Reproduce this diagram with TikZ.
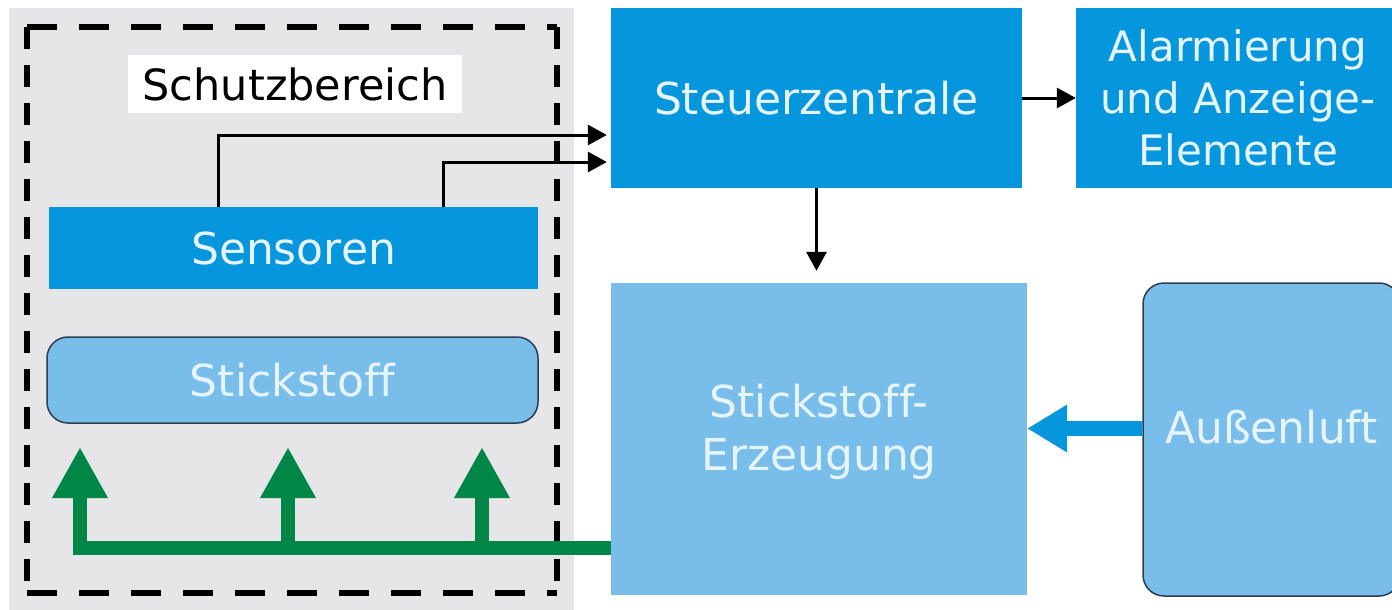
\documentclass[tikz,border=0pt]{standalone}
\usepackage{fontspec}
\setmainfont[Ligatures=NoCommon]{DejaVu Sans}
\usetikzlibrary{arrows.meta}

\definecolor{zoneGray}{RGB}{230,230,233}
\definecolor{ctrlBlue}{RGB}{5,150,222}
\definecolor{lightBlue}{RGB}{121,189,234}
\definecolor{edgeDark}{RGB}{45,62,82}
\definecolor{flowGreen}{RGB}{0,134,70}
\definecolor{textLight}{RGB}{230,244,252}

\tikzset{
  block/.style={rectangle, inner sep=0pt, text=textLight,
    font=\fontsize{44}{53}\selectfont, align=center},
  darkblock/.style={block, fill=ctrlBlue},
  paleblock/.style={block, fill=lightBlue},
  roundblock/.style={block, fill=lightBlue, draw=edgeDark, line width=1.5pt,
    rounded corners=21pt},
  lbl/.style={inner sep=0pt, text=textLight, align=center,
    font=\fontsize{44}{53}\selectfont},
  sig/.style={draw=black, line width=3pt,
    -{Triangle[length=19pt,width=20pt]}},
  airflow/.style={draw=ctrlBlue, line width=15pt,
    -{Triangle[length=40pt,width=45pt]}},
  n2flow/.style={draw=flowGreen, line width=14pt,
    -{Triangle[length=51pt,width=52pt]}},
  zoneedge/.style={draw=black, line width=6pt},
}

\begin{document}
\begin{tikzpicture}[x=1pt,y=-1pt]
  \clip (0,0) rectangle (1392,610);
  \fill[white] (0,0) rectangle (1392,610);

  % protected zone
  \fill[zoneGray] (9,8) rectangle (574,610);
  \draw[zoneedge, dash pattern=on 30pt off 22pt] (27,27) -- (557,27);
  \draw[zoneedge, dash pattern=on 30pt off 22pt] (27,593) -- (557,593);
  \draw[zoneedge, dash pattern=on 22pt off 16pt] (27,27) -- (27,593);
  \draw[zoneedge, dash pattern=on 22pt off 16pt] (557,27) -- (557,593);

  \node[fill=white, inner sep=0pt, minimum width=334pt, minimum height=58pt,
        font=\fontsize{43}{52}\selectfont, text=black]
        (zone) at (295,84) {Schutzbereich};

  % blocks
  \node[darkblock, minimum width=489pt, minimum height=82pt]
        (sens) at (293.5,248) {Sensoren};
  \node[roundblock, minimum width=491pt, minimum height=86pt]
        (n2) at (292.5,380) {Stickstoff};
  \node[darkblock, minimum width=411pt, minimum height=180pt]
        (steuer) at (816.5,98) {Steuerzentrale};
  \node[darkblock, minimum width=324pt, minimum height=180pt,
        font=\fontsize{42}{52}\selectfont]
        (alarm) at (1238,98) {Alarmierung\\und Anzeige-\\Elemente};
  \node[paleblock, minimum width=416pt, minimum height=312pt]
        (erz) at (819,439) {};
  \node[lbl] (erzT) at ([yshift=7pt]erz.center) {Stickstoff-\\Erzeugung};
  \node[roundblock, minimum width=257pt, minimum height=313pt]
        (aus) at (1271.5,439.5) {};
  \node[lbl] (ausT) at ([yshift=12pt]aus.center) {Außenluft};

  % signal lines
  \draw[sig, shorten >=4pt] ([xshift=-75.5pt]sens.north) |- ([yshift=-37pt]steuer.west);
  \draw[sig, shorten >=4pt] ([xshift=149.5pt]sens.north) |- ([yshift=-64pt]steuer.west);
  \draw[sig] (steuer.east) -- (alarm.west);
  \draw[sig, shorten >=12pt] (steuer.south) -- (steuer.south |- erz.north);

  % outside air into generator
  \draw[airflow] ([yshift=11pt]aus.west) -- ([yshift=11pt]aus.west -| erz.east);

  % nitrogen distribution
  \coordinate (g1) at (80,447);
  \coordinate (g2) at (288,447);
  \coordinate (g3) at (482,447);
  \coordinate (trunk) at ([yshift=-109pt]erz.west);
  \draw[n2flow] (trunk) -| (g1);
  \draw[n2flow] (g2 |- trunk) -- (g2);
  \draw[n2flow] (g3 |- trunk) -- (g3);
\end{tikzpicture}
\end{document}
